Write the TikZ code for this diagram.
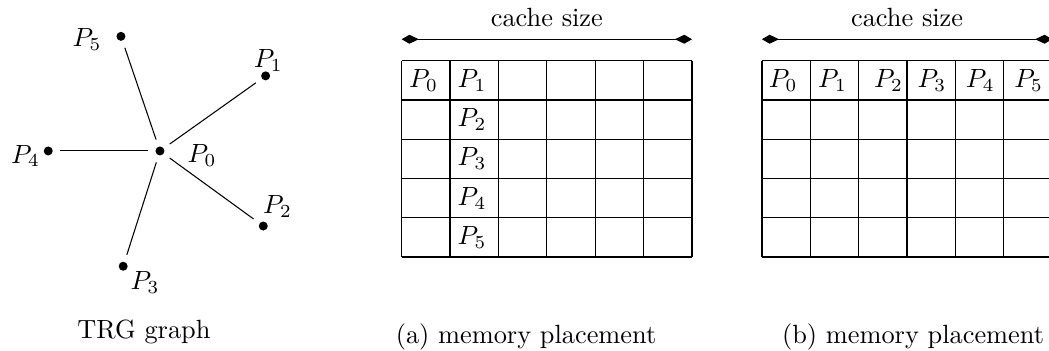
\documentclass[tikz,border=0pt]{standalone}
\usetikzlibrary{arrows.meta}
\begin{document}
\begin{tikzpicture}
\tikzset{point/.style={circle, fill, inner sep=0pt, minimum size=0.12cm, outer sep=0.1cm},
  lettre/.style={inner sep=0pt},
  cellule/.style={inner sep=0pt, anchor=west},
  taille/.style={{Kite[length=6.5pt,width=3.4pt,inset=3.6pt]}-{Kite[length=6.5pt,width=3.4pt,inset=3.6pt]}}}
\useasboundingbox (-2.135,-2.669) rectangle (11.865,2.015);
\clip (-2.135,-2.669) rectangle (11.865,2.015);
% graphe TRG
\node[point] (V0) at (0,0) {};
\node[point] (V1) at (35.4:1.73cm) {};
\node[point] (V2) at (-36:1.704cm) {};
\node[point] (V3) at (-107.7:1.615cm) {};
\node[point] (V4) at (180:1.491cm) {};
\node[point] (V5) at (108.8:1.616cm) {};
\node[lettre] (L0) at (0.561,-0.063) {$P_0$};
\node[lettre] (L1) at (1.445,1.210) {$P_1$};
\node[lettre] (L2) at (1.568,-0.743) {$P_2$};
\node[lettre] (L3) at (-0.200,-1.755) {$P_3$};
\node[lettre] (L4) at (-1.795,-0.067) {$P_4$};
\node[lettre] (L5) at (-0.974,1.485) {$P_5$};
\draw (V0) -- (V1);
\draw (V0) -- (V2);
\draw (V0) -- (V3);
\draw (V0) -- (V4);
\draw (V0) -- (V5);
\node[anchor=base] (trg) at (-0.214,-2.509) {TRG graph};
% (a)
\draw[line width=0.5pt, xstep=0.6456cm, ystep=0.524cm, shift={(3.226,-1.415)}] (0,0) grid (3.875,2.621);
\coordinate (Ga) at (3.226,1.491);
\coordinate (Da) at (7.100,1.491);
\draw[taille] (Ga) -- (Da);
\node[anchor=base] (ca) at (5.163,1.655) {cache size};
\node[cellule] (A0) at (3.319,0.943) {$P_0$};
\node[cellule] (A1) at (3.965,0.943) {$P_1$};
\node[cellule] (A2) at (3.965,0.419) {$P_2$};
\node[cellule] (A3) at (3.965,-0.105) {$P_3$};
\node[cellule] (A4) at (3.965,-0.629) {$P_4$};
\node[cellule] (A5) at (3.965,-1.153) {$P_5$};
\node[anchor=base] (capa) at (4.885,-2.576) {(a) memory placement};
% (b)
\draw[line width=0.5pt, xstep=0.6456cm, ystep=0.524cm, shift={(8.034,-1.415)}] (0,0) grid (3.875,2.621);
\coordinate (Gb) at (8.034,1.491);
\coordinate (Db) at (11.908,1.491);
\draw[taille] (Gb) -- (Db);
\node[anchor=base] (cb) at (9.971,1.655) {cache size};
\node[cellule] (B0) at (8.118,0.943) {$P_0$};
\node[cellule] (B1) at (8.777,0.943) {$P_1$};
\node[cellule] (B2) at (9.525,0.943) {$P_2$};
\node[cellule] (B3) at (10.104,0.943) {$P_3$};
\node[cellule] (B4) at (10.749,0.943) {$P_4$};
\node[cellule] (B5) at (11.395,0.943) {$P_5$};
\node[anchor=base] (capb) at (10.05,-2.576) {(b) memory placement};
\end{tikzpicture}
\end{document}
